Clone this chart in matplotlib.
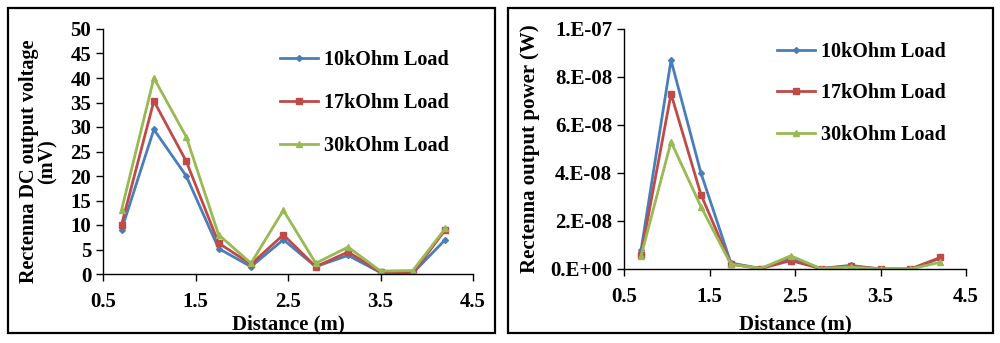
import numpy as np
import matplotlib.pyplot as plt
from matplotlib.patches import Rectangle

plt.rcParams['font.family'] = ['Liberation Serif', 'DejaVu Serif']
plt.rcParams['font.weight'] = 'bold'
plt.rcParams['axes.labelweight'] = 'bold'

# distances (m)
distance = [0.7, 1.05, 1.4, 1.75, 2.1, 2.45, 2.8, 3.15, 3.5, 3.85, 4.2]

# DC output voltage (mV)
volt_10k = [9, 29.5, 20, 5.2, 1.5, 7, 1.5, 3.8, 0.3, 0.2, 7]
volt_17k = [10, 35.3, 23, 6.3, 2, 8, 1.5, 4.5, 0.4, 0.2, 9]
volt_30k = [13, 40, 28, 8, 2.2, 13, 2.2, 5.5, 0.6, 0.7, 9.3]

# output power (W)
pow_10k = [0.8e-8, 8.7e-8, 4.0e-8, 0.25e-8, 0.02e-8, 0.45e-8, 0.02e-8, 0.15e-8, 0.0, 0.0, 0.45e-8]
pow_17k = [0.6e-8, 7.3e-8, 3.1e-8, 0.2e-8, 0.02e-8, 0.35e-8, 0.02e-8, 0.12e-8, 0.0, 0.0, 0.48e-8]
pow_30k = [0.55e-8, 5.3e-8, 2.6e-8, 0.2e-8, 0.02e-8, 0.55e-8, 0.02e-8, 0.08e-8, 0.0, 0.0, 0.28e-8]

labels = ["10kOhm Load", "17kOhm Load", "30kOhm Load"]
x_ticks = [0.5, 1.5, 2.5, 3.5, 4.5]
p_ticks = [0, 2e-8, 4e-8, 6e-8, 8e-8, 1e-7]
p_tick_labels = ["0.E+00", "2.E-08", "4.E-08", "6.E-08", "8.E-08", "1.E-07"]

colors = ["#4A7EBB", "#BE4B48", "#98B954"]
markers = ["D", "s", "^"]
msizes = [3, 4.5, 4.5]

W, H = 1000, 343
fig = plt.figure(figsize=(10, 3.43), dpi=100)

# panel borders
for x0, x1 in [(8, 495), (508, 993)]:
    fig.patches.append(Rectangle((x0 / W, 1 - 333 / H), (x1 - x0) / W, 325 / H,
                                 transform=fig.transFigure, fill=False,
                                 edgecolor="black", lw=1.6))


def style(ax):
    for s in ["top", "right"]:
        ax.spines[s].set_visible(False)
    for s in ["left", "bottom"]:
        ax.spines[s].set_linewidth(1.0)
    ax.tick_params(direction="out", length=5, width=1.0, labelsize=15)
    ax.set_xlim(0.5, 4.5)
    ax.set_xticks(x_ticks)
    ax.set_xticklabels([str(t) for t in x_ticks])
    ax.tick_params(axis="x", pad=8)
    for t in ax.get_xticklabels() + ax.get_yticklabels():
        t.set_fontweight("bold")


ax1 = fig.add_axes([103 / W, 1 - 274 / H, 370 / W, 245 / H])
for ys, c, m, ms, lab in zip([volt_10k, volt_17k, volt_30k], colors, markers, msizes, labels):
    ax1.plot(distance, ys, color=c, marker=m, markersize=ms, lw=2, label=lab)
ax1.set_ylim(0, 50)
ax1.set_yticks(range(0, 51, 5))
style(ax1)
ax1.set_xlabel("Distance (m)", fontsize=15, labelpad=2)
ax1.set_ylabel("Rectenna DC output voltage\n(mV)", fontsize=14.5, linespacing=0.9)
ax1.yaxis.set_label_coords(-0.122, 0.46)
ax1.legend(frameon=False, loc="upper left", bbox_to_anchor=(0.43, 0.99), fontsize=14.5,
           handlelength=1.9, labelspacing=1.15, handletextpad=0.25)

ax2 = fig.add_axes([624 / W, 1 - 269 / H, 342 / W, 240 / H])
for ys, c, m, ms, lab in zip([pow_10k, pow_17k, pow_30k], colors, markers, msizes, labels):
    ax2.plot(distance, ys, color=c, marker=m, markersize=ms, lw=2, label=lab)
ax2.set_ylim(0, 1e-7)
ax2.set_yticks(p_ticks)
ax2.set_yticklabels(p_tick_labels)
style(ax2)
ax2.set_xlabel("Distance (m)", fontsize=15, labelpad=5)
ax2.set_ylabel("Rectenna output power (W)", fontsize=15, labelpad=7)
ax2.legend(frameon=False, loc="upper left", bbox_to_anchor=(0.395, 1.02), fontsize=14.5,
           handlelength=1.9, labelspacing=1.05, handletextpad=0.25)

fig.savefig("out.png", dpi=100)
